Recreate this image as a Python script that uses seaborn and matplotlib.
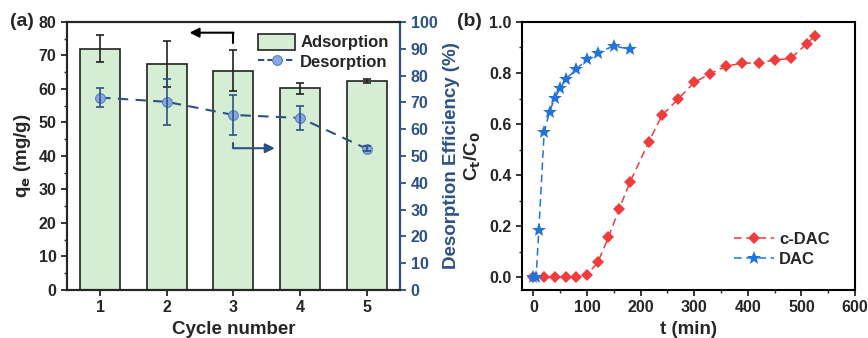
import matplotlib
matplotlib.use("Agg")
import matplotlib.pyplot as plt
import seaborn as sns
import numpy as np
import pandas as pd
from matplotlib.ticker import MultipleLocator
from matplotlib.patches import Patch
from matplotlib.lines import Line2D

# ---------------- data ----------------
cycles = [1, 2, 3, 4, 5]
adsorption = [72.0, 67.5, 65.4, 60.2, 62.5]
adsorption_err = [4.0, 6.9, 6.1, 1.6, 0.6]
desorption = [71.8, 70.2, 65.3, 64.2, 52.7]
desorption_err = [3.7, 8.7, 7.5, 4.4, 1.0]

t_cdac = [0, 20, 40, 60, 80, 100, 120, 140, 160, 180, 215, 240, 270, 300,
          330, 360, 390, 420, 450, 480, 510, 525]
c_cdac = [0.0, 0.0, 0.0, 0.0, 0.0, 0.01, 0.058, 0.157, 0.268, 0.372, 0.529,
          0.635, 0.698, 0.763, 0.798, 0.827, 0.839, 0.839, 0.851, 0.857,
          0.915, 0.945]
t_dac = [0, 5, 10, 20, 30, 40, 50, 60, 80, 100, 120, 150, 180]
c_dac = [0.0, 0.0, 0.186, 0.569, 0.648, 0.703, 0.740, 0.776, 0.814, 0.855,
         0.880, 0.906, 0.893]

# ---------------- style ----------------
sns.set_theme(style="ticks")
plt.rcParams['font.family'] = ['Liberation Sans', 'DejaVu Sans']
plt.rcParams['font.weight'] = 'bold'
plt.rcParams['axes.labelweight'] = 'bold'
plt.rcParams['axes.linewidth'] = 1.5
plt.rcParams['mathtext.default'] = 'bf'

NAVY = '#2c5185'
LBLUE = '#86a9e0'
GREEN = '#d5eed3'
RED = '#f03c3c'
BLUE = '#2272dc'

fig = plt.figure(figsize=(8.68, 3.38), dpi=100)
axa = fig.add_axes([0.077, 0.142, 0.384, 0.793])
axb = fig.add_axes([0.601, 0.142, 0.384, 0.793])

# ---------------- panel (a) ----------------
dfa = pd.DataFrame({'cycle': cycles, 'ads': adsorption})
sns.barplot(data=dfa, x='cycle', y='ads', native_scale=True, width=0.6,
            color=GREEN, saturation=1, edgecolor='#222222', linewidth=1.2,
            ax=axa, errorbar=None)
axa.errorbar(cycles, adsorption, yerr=adsorption_err, fmt='none',
             ecolor='#222222', elinewidth=1.2, capsize=3, capthick=1.2)
axa.set_xlim(0.5, 5.5)
axa.set_ylim(0, 80)
axa.yaxis.set_major_locator(MultipleLocator(10))
axa.yaxis.set_minor_locator(MultipleLocator(5))
axa.set_xticks(cycles)
axa.set_xlabel('Cycle number', fontsize=13.5, fontweight='bold')
axa.set_ylabel('q$_\\mathbf{e}$ (mg/g)', fontsize=13.5, fontweight='bold')
axa.tick_params(axis='both', labelsize=11.5, width=1.3, length=4, direction='out')
axa.tick_params(axis='y', which='minor', left=True, length=2.5, width=1.0)
for lab in axa.get_xticklabels() + axa.get_yticklabels():
    lab.set_fontweight('bold')

ax2 = axa.twinx()
dfd = pd.DataFrame({'cycle': cycles, 'des': desorption})
sns.lineplot(data=dfd, x='cycle', y='des', ax=ax2, color=NAVY,
             linestyle=(0, (5, 3.5)), linewidth=1.5, marker='o', markersize=7,
             markerfacecolor=LBLUE, markeredgecolor='#5a7fc0',
             markeredgewidth=0.8)
ax2.errorbar(cycles, desorption, yerr=desorption_err, fmt='none',
             ecolor=NAVY, elinewidth=1.2, capsize=3, capthick=1.2)
ax2.set_ylim(0, 100)
ax2.yaxis.set_major_locator(MultipleLocator(10))
ax2.set_ylabel('Desorption Efficiency (%)', fontsize=13.5, fontweight='bold',
               color=NAVY)
ax2.tick_params(axis='y', labelsize=11.5, width=1.3, length=4, colors=NAVY)
for lab in ax2.get_yticklabels():
    lab.set_fontweight('bold')
ax2.spines['right'].set_color(NAVY)
ax2.spines['right'].set_linewidth(1.5)

# arrows
axa.plot([3, 3], [73.6, 76.8], color='black', lw=1.5)
axa.annotate('', xy=(2.34, 76.8), xytext=(3.0, 76.8),
             arrowprops=dict(arrowstyle='-|>', color='black', lw=1.5,
                             mutation_scale=14, shrinkA=0, shrinkB=0))
ax2.plot([3, 3], [54.8, 52.9], color=NAVY, lw=1.5)
ax2.annotate('', xy=(3.62, 52.9), xytext=(3.0, 52.9),
             arrowprops=dict(arrowstyle='-|>', color=NAVY, lw=1.5,
                             mutation_scale=14, shrinkA=0, shrinkB=0))

# legend (a)
handles = [Patch(facecolor=GREEN, edgecolor='#222222', linewidth=1.2),
           Line2D([0], [0], color=NAVY, linestyle=(0, (3, 1.5)), linewidth=1.5,
                  marker='o', markersize=7, markerfacecolor=LBLUE,
                  markeredgecolor='#5a7fc0', markeredgewidth=0.8)]
ax2.legend(handles, ['Adsorption', 'Desorption'], loc='upper right',
           frameon=False, prop={'weight': 'bold', 'size': 12},
           handlelength=2.2, handleheight=1.1, handletextpad=0.3,
           labelspacing=0.2, bbox_to_anchor=(1.0, 1.0), borderaxespad=0.3)

fig.text(0.012, 0.935, '(a)', fontsize=14, fontweight='bold', va='center')

# ---------------- panel (b) ----------------
sns.lineplot(x=t_cdac, y=c_cdac, ax=axb, color=RED, linestyle=(0, (5, 3)),
             linewidth=1.1, marker='D', markersize=6, markeredgewidth=0,
             label='c-DAC')
sns.lineplot(x=t_dac, y=c_dac, ax=axb, color=BLUE, linestyle=(0, (5, 3)),
             linewidth=1.1, marker='*', markersize=10, markeredgewidth=0,
             label='DAC')
axb.set_xlim(-22, 600)
axb.set_ylim(-0.05, 1.0)
axb.xaxis.set_major_locator(MultipleLocator(100))
axb.xaxis.set_minor_locator(MultipleLocator(50))
axb.yaxis.set_major_locator(MultipleLocator(0.2))
axb.yaxis.set_minor_locator(MultipleLocator(0.1))
axb.yaxis.set_major_formatter(matplotlib.ticker.FormatStrFormatter('%.1f'))
axb.set_xlabel('t (min)', fontsize=13.5, fontweight='bold')
axb.set_ylabel('C$_\\mathbf{t}$/C$_\\mathbf{0}$', fontsize=13.5, fontweight='bold')
axb.tick_params(axis='both', labelsize=11.5, width=1.3, length=4, direction='out')
axb.tick_params(axis='both', which='minor', length=2.5, width=1.0)
for lab in axb.get_xticklabels() + axb.get_yticklabels():
    lab.set_fontweight('bold')
axb.legend(loc='lower right', frameon=False, prop={'weight': 'bold', 'size': 12},
           handlelength=2.4, handletextpad=0.3, labelspacing=0.3,
           bbox_to_anchor=(0.945, 0.06), borderaxespad=0)
for sp in axb.spines.values():
    sp.set_linewidth(1.5)
    sp.set_color('black')
for sp in axa.spines.values():
    sp.set_color('black')

fig.text(0.527, 0.935, '(b)', fontsize=14, fontweight='bold', va='center')

fig.savefig('out.png', dpi=100)
